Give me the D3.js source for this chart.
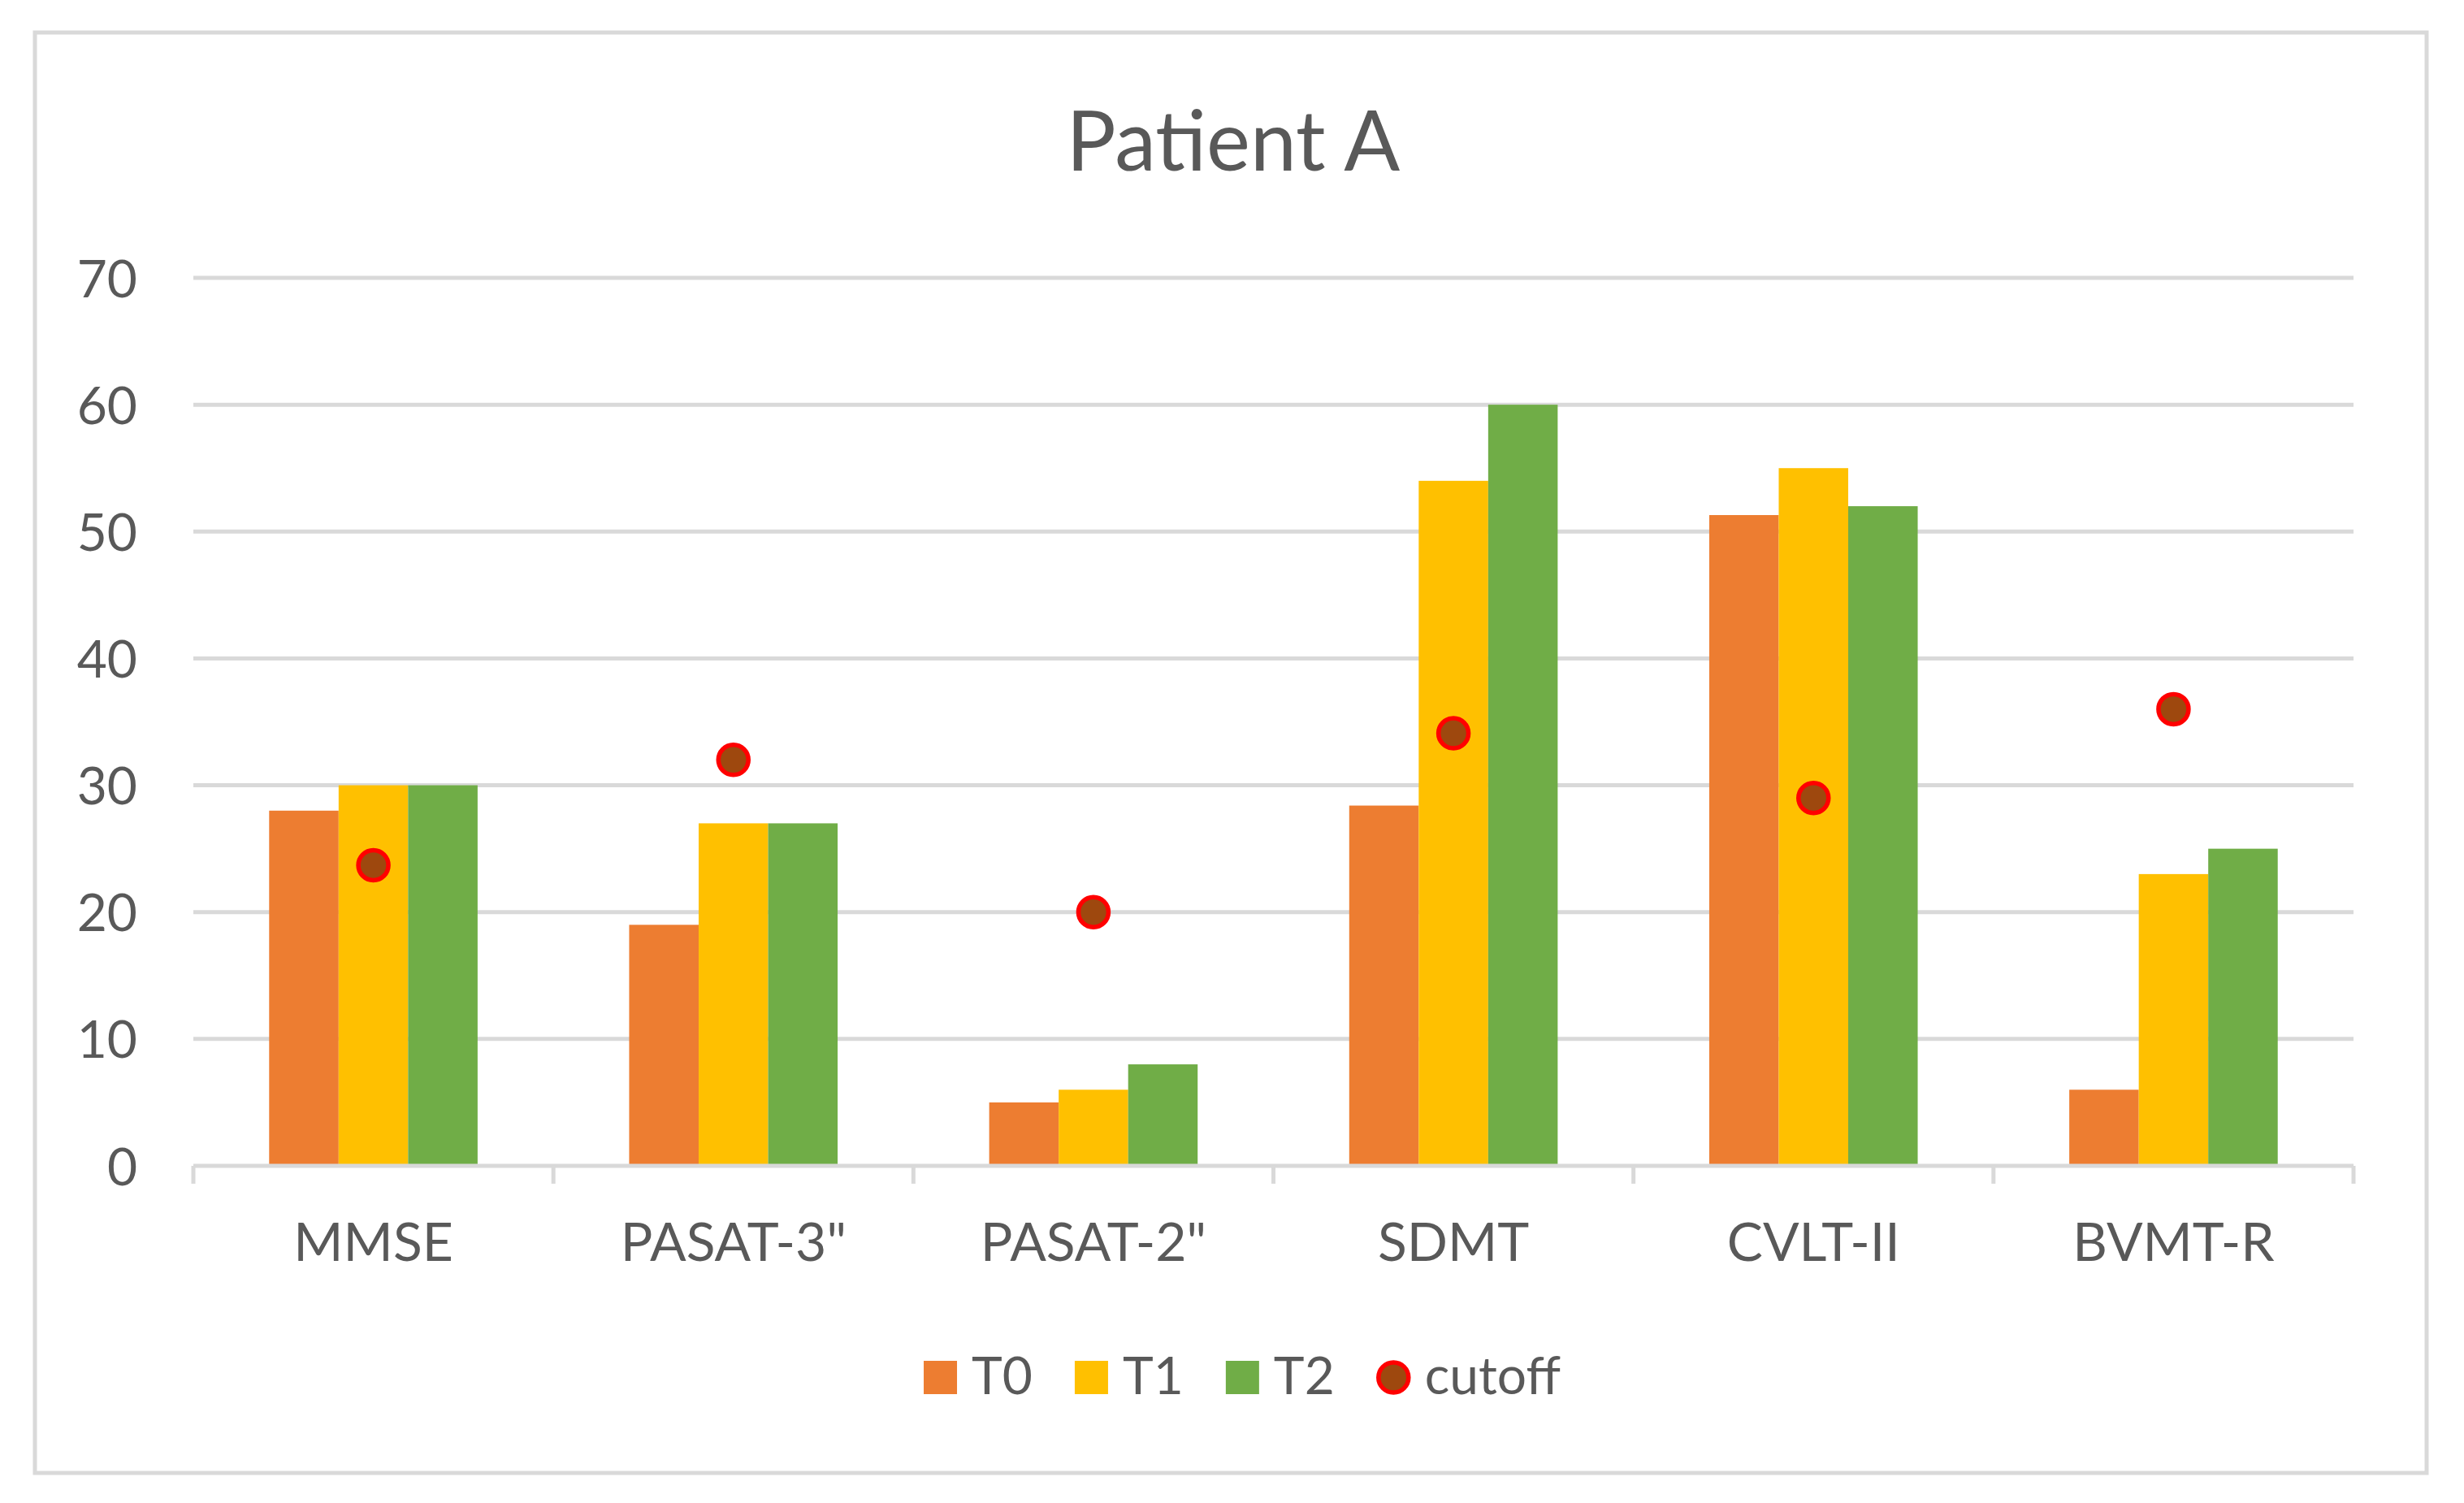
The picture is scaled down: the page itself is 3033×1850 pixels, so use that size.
<!DOCTYPE html>
<html>
<head>
<meta charset="utf-8">
<script src="https://cdn.jsdelivr.net/npm/d3@7"></script>
<style>
  html, body { margin: 0; padding: 0; background: #ffffff; }
  svg { display: block; }
  text { font-family: Lato, "Open Sans", sans-serif; fill: #595959; }
</style>
</head>
<body>
<svg id="chart" width="3033" height="1850"></svg>
<script>
// ---- data ----
const categories = ["MMSE", "PASAT-3\"", "PASAT-2\"", "SDMT", "CVLT-II", "BVMT-R"];
const seriesNames = ["T0", "T1", "T2"];
const T0 = [28, 19, 5, 28.4, 51.3, 6];
const T1 = [30, 27, 6, 54, 55, 23];
const T2 = [30, 27, 8, 60, 52, 25];
const cutoff = [23.7, 32, 20, 34.1, 29, 36];
const yTicks = [0, 10, 20, 30, 40, 50, 60, 70];
const titleText = "Patient A";
const cutoffLabel = "cutoff";

(function () {
const seriesValues = [T0, T1, T2];
const seriesColors = ["#ED7D31", "#FFC000", "#70AD47"];
const markerFill = "#9E480E";
const markerStroke = "#FF0000";
const gridColor = "#D9D9D9";

const svg = d3.select("#chart");

// chart border
svg.append("rect")
  .attr("x", 43).attr("y", 40)
  .attr("width", 2944).attr("height", 1773)
  .attr("fill", "#ffffff")
  .attr("stroke", gridColor).attr("stroke-width", 5);

// plot area
const pLeft = 238, pRight = 2897, pTop = 342, pBottom = 1435;

const x = d3.scaleBand().domain(categories).range([pLeft, pRight])
  .paddingInner(0.421).paddingOuter(0.2105);
const xs = d3.scaleBand().domain(seriesNames).range([0, x.bandwidth()]);
const y = d3.scaleLinear().domain([0, 70]).range([pBottom, pTop]);

// gridlines
svg.append("g").selectAll("line")
  .data(yTicks.filter(d => d > 0))
  .join("line")
  .attr("x1", pLeft).attr("x2", pRight)
  .attr("y1", d => y(d)).attr("y2", d => y(d))
  .attr("stroke", gridColor).attr("stroke-width", 5);

// y axis labels (no line)
const yAxis = d3.axisLeft(y).tickValues(yTicks).tickSize(0).tickPadding(0);
const yg = svg.append("g").attr("transform", "translate(169,0)").call(yAxis);
yg.select(".domain").remove();
yg.selectAll("text")
  .attr("font-size", 64)
  .attr("font-family", "Lato, sans-serif")
  .attr("fill", "#595959")
  .attr("dy", "0.36em")
  .attr("x", 0);

// bars
const barData = [];
categories.forEach((c, i) => {
  seriesNames.forEach((s, j) => {
    barData.push({ cat: c, ser: s, value: seriesValues[j][i], color: seriesColors[j] });
  });
});
svg.append("g").selectAll("rect")
  .data(barData)
  .join("rect")
  .attr("x", d => x(d.cat) + xs(d.ser))
  .attr("width", xs.bandwidth())
  .attr("y", d => y(d.value))
  .attr("height", d => y(0) - y(d.value))
  .attr("fill", d => d.color);

// x axis line and ticks
const xg = svg.append("g");
xg.append("line")
  .attr("x1", pLeft).attr("x2", pRight)
  .attr("y1", y(0)).attr("y2", y(0))
  .attr("stroke", gridColor).attr("stroke-width", 5);
const boundaries = d3.range(categories.length + 1).map(i => pLeft + i * x.step());
xg.selectAll("line.tick")
  .data(boundaries)
  .join("line")
  .attr("class", "tick")
  .attr("x1", d => d).attr("x2", d => d)
  .attr("y1", y(0)).attr("y2", y(0) + 22)
  .attr("stroke", gridColor).attr("stroke-width", 5);

// category labels
svg.append("g").selectAll("text")
  .data(categories)
  .join("text")
  .attr("x", d => x(d) + x.bandwidth() / 2)
  .attr("y", 1552)
  .attr("text-anchor", "middle")
  .attr("font-size", 66)
  .text(d => d);

// cutoff markers
svg.append("g").selectAll("circle")
  .data(categories.map((c, i) => ({ cat: c, value: cutoff[i] })))
  .join("circle")
  .attr("cx", d => x(d.cat) + x.bandwidth() / 2)
  .attr("cy", d => y(d.value))
  .attr("r", 18.5)
  .attr("fill", markerFill)
  .attr("stroke", markerStroke)
  .attr("stroke-width", 5.5);

// title
svg.append("text")
  .attr("x", 1518).attr("y", 210)
  .attr("text-anchor", "middle")
  .attr("font-size", 102)
  .text(titleText);

// legend
const legendItems = seriesNames.map((s, j) => ({ label: s, type: "rect", color: seriesColors[j] }))
  .concat([{ label: cutoffLabel, type: "circle" }]);
const lg = svg.append("g");
const symW = 41, symGap = 18, itemGap = 52, baseY = 1716, symCY = 1695.5;
let cursor = 0;
legendItems.forEach(it => {
  const g = lg.append("g");
  if (it.type === "rect") {
    g.append("rect").attr("x", cursor).attr("y", symCY - symW / 2)
      .attr("width", symW).attr("height", symW).attr("fill", it.color);
  } else {
    g.append("circle").attr("cx", cursor + symW / 2).attr("cy", symCY)
      .attr("r", 18.5).attr("fill", markerFill)
      .attr("stroke", markerStroke).attr("stroke-width", 5.5);
  }
  const t = g.append("text").attr("x", cursor + symW + symGap).attr("y", baseY)
    .attr("font-size", 64).text(it.label);
  const w = t.node().getComputedTextLength();
  cursor += symW + symGap + w + itemGap;
});
const totalW = cursor - itemGap;
lg.attr("transform", `translate(${1529 - totalW / 2},0)`);
})();
</script>
</body>
</html>
